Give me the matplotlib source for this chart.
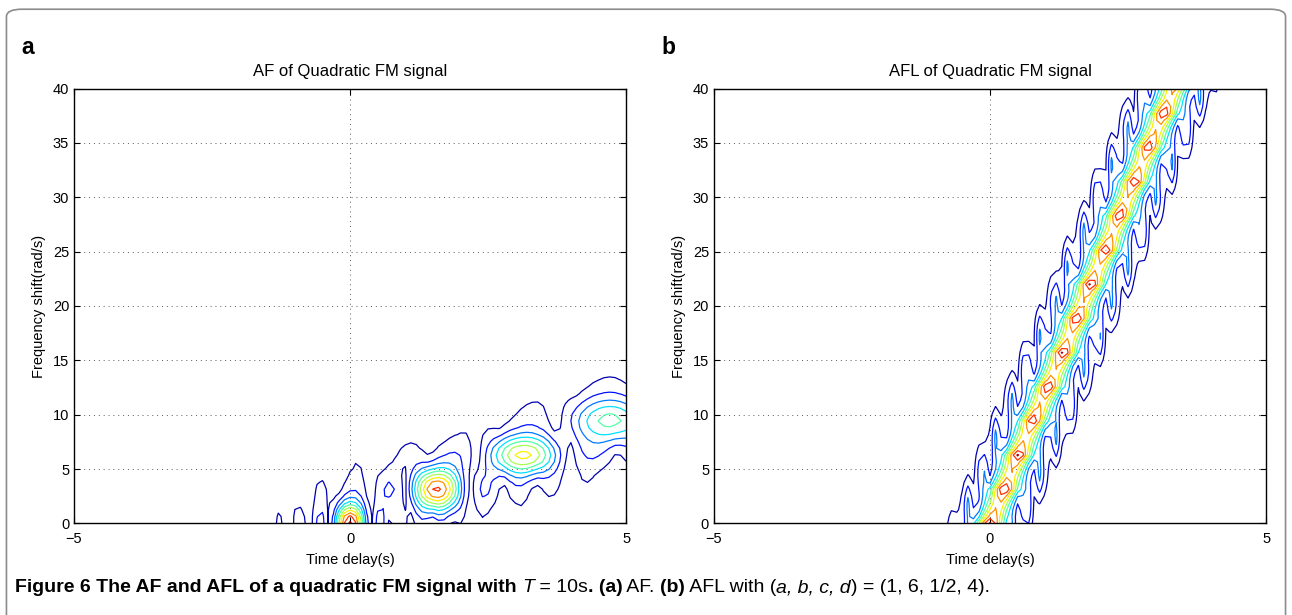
import numpy as np
import matplotlib
matplotlib.use('Agg')
import matplotlib.pyplot as plt
from matplotlib.patches import FancyBboxPatch

plt.rcParams['font.family'] = ['Liberation Sans', 'DejaVu Sans']

# --- peaks (AF) ---
af_tau = [0.0, 1.57, 3.14, 4.71, 6.28]
af_nu = [0.0, 3.14, 6.28, 9.42, 12.57]
af_amp = [1.0, 0.9, 0.7, 0.5, 0.35]
af_wtau = [0.37, 0.6, 0.85, 1.0, 1.1]   # lobe width along time delay
af_wnu = [1.3, 1.4, 1.3, 1.5, 1.7]      # spread along frequency shift

# --- peaks (AFL), along the ridge ---
afl_tau = [-0.26, 0.0, 0.26, 0.51, 0.79, 1.05, 1.32, 1.57, 1.82, 2.10,
           2.35, 2.62, 2.88, 3.15, 3.40, 3.66]
afl_nu = [-3.14, 0.0, 3.13, 6.28, 9.57, 12.5, 15.7, 18.8, 22.0, 25.2,
          28.4, 31.5, 34.7, 37.8, 40.9, 44.0]
afl_base = 0.72     # level of the ridge between peaks
afl_bump = 0.28     # extra height at each peak
afl_wtau = 0.19
afl_wnu = 0.9
# thin side lobes (spikes) beside each peak: left ones point up, right ones down
lobe_amp = 0.3
lobe_dtau = [-0.4, 0.4]
lobe_dnu = [1.7, -1.7]
lobe_wtau = 0.07
lobe_wnu = 1.7

# sampling grid (T = 10 s)
tau = np.arange(-5, 5.0001, 0.1)
nu = np.arange(0, 41, 2 * np.pi / 10)
TAU, NU = np.meshgrid(tau, nu)

Z_af = np.zeros_like(TAU)
for t0, n0, a, wt, wn in zip(af_tau, af_nu, af_amp, af_wtau, af_wnu):
    Z_af += a * np.exp(-0.5 * ((NU - n0) / wn) ** 2) * np.abs(np.sinc((TAU - t0) / wt))

ridge = np.interp(NU, afl_nu, afl_tau)
nearest = np.min([np.abs(NU - n0) for n0 in afl_nu], axis=0)
along = afl_base + afl_bump * np.exp(-nearest / afl_wnu)
Z_afl = along * np.exp(-0.5 * ((TAU - ridge) / afl_wtau) ** 2)
for t0, n0 in zip(afl_tau, afl_nu):
    for dt, dn in zip(lobe_dtau, lobe_dnu):
        Z_afl += lobe_amp * np.exp(-0.5 * ((TAU - t0 - dt) / lobe_wtau) ** 2
                                   - 0.5 * ((NU - n0 - dn) / lobe_wnu) ** 2)

levels = np.linspace(0.08, 0.98, 10)
line_colors = plt.cm.jet(np.linspace(0.04, 0.96, len(levels)))

fig = plt.figure(figsize=(12.92, 6.15), dpi=100)

# rounded frame around the figure
frame = FancyBboxPatch((0.005, -0.1), 0.99, 1.085, boxstyle='round,pad=0,rounding_size=0.012',
                       transform=fig.transFigure, fill=False, ec='0.55', lw=1.2)
fig.patches.append(frame)

panels = [
    (0.0573, Z_af, 'AF of Quadratic FM signal', 'a'),
    (0.5526, Z_afl, 'AFL of Quadratic FM signal', 'b'),
]
for left, Z, title, tag in panels:
    ax = fig.add_axes([left, 0.149, 0.4273, 0.707])
    ax.contour(TAU, NU, Z, levels=levels, colors=line_colors, linewidths=0.9)
    ax.set_xlim(-5, 5)
    ax.set_ylim(0, 40)
    ax.set_xticks([-5, 0, 5])
    ax.set_yticks(range(0, 41, 5))
    ax.grid(True, color='0.35', linestyle=(0, (1, 4)), linewidth=0.7)
    ax.tick_params(direction='in', top=True, right=True, length=4, labelsize=10.5, width=0.8)
    ax.tick_params(axis='x', pad=6)
    for sp in ax.spines.values():
        sp.set_linewidth(1.0)
    ax.set_title(title, fontsize=12, pad=9)
    ax.set_xlabel('Time delay(s)', fontsize=10.5, labelpad=5)
    ax.set_ylabel('Frequency shift(rad/s)', fontsize=10.5, labelpad=5)
    fig.text(left - 0.041, 0.913, tag, fontsize=16.5, fontweight='bold', ha='left', va='baseline')

# caption, written piece by piece
cap_font = ['Liberation Sans Narrow', 'Liberation Sans', 'DejaVu Sans']
parts = [
    ('Figure 6 The AF and AFL of a quadratic FM signal with ', dict(fontweight='bold')),
    ('T', dict(style='italic')),
    (' = 10s', dict()),
    ('. (a)', dict(fontweight='bold')),
    (' AF. ', dict()),
    ('(b)', dict(fontweight='bold')),
    (' AFL with (', dict()),
    ('a, b, c, d', dict(style='italic')),
    (') = (1, 6, 1/2, 4).', dict()),
]
renderer = fig.canvas.get_renderer()
x = 15 / 1292
for s, kw in parts:
    t = fig.text(x, 1 - 588 / 615, s, fontsize=14, family=cap_font, va='center', **kw)
    bb = t.get_window_extent(renderer=renderer)
    x += bb.width / fig.bbox.width

fig.savefig('out.png', dpi=100)
